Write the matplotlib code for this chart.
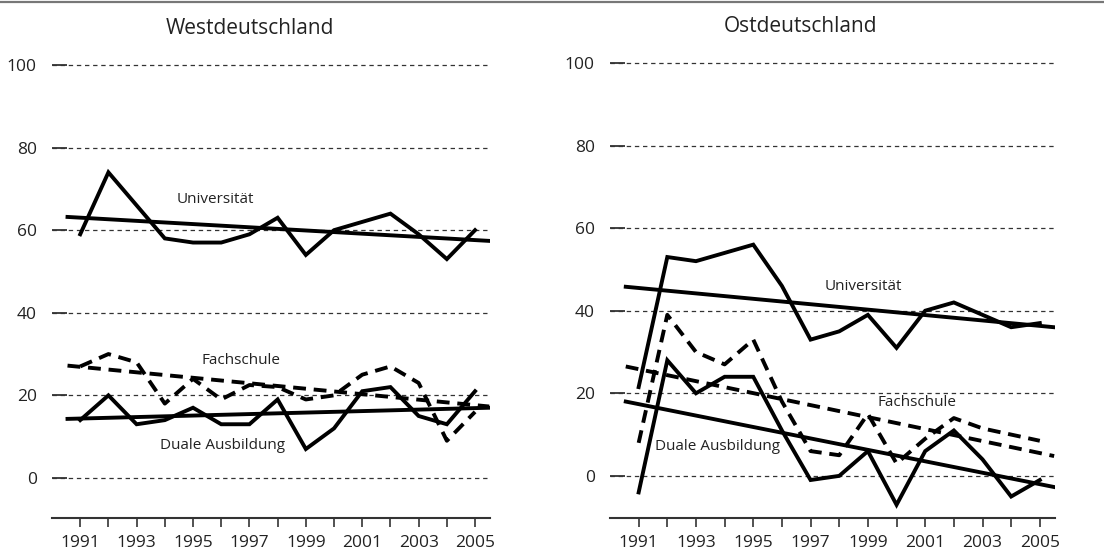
import numpy as np
import matplotlib
matplotlib.use("Agg")
import matplotlib.pyplot as plt
from matplotlib.lines import Line2D

plt.rcParams['font.family'] = ['Open Sans', 'DejaVu Sans']

## datos
jahre = np.arange(1991, 2006)

west_uni = [59, 74, 66, 58, 57, 57, 59, 63, 54, 60, 62, 64, 59, 53, 60]
west_fach = [27, 30, 28, 18, 24, 19, 22.5, 22, 19, 20, 25, 27, 23, 9, 16]
west_dual = [14, 20, 13, 14, 17, 13, 13, 19, 7, 12, 21, 22, 15, 13, 21]

ost_uni = [21.5, 53, 52, 54, 56, 46, 33, 35, 39, 31, 40, 42, 39, 36, 37]
ost_fach = [8, 39, 30, 27, 33, 18, 6, 5, 15, 3, 9, 14, 11.5, 10, 8.5]
ost_dual = [-4, 28, 20, 24, 24, 11, -1, 0, 6, -7, 6, 11, 4, -5, -1]

## trends (start, ende)
trend_x = [1990.55, 2005.5]
west_trend_uni = [63.2, 57.4]
west_trend_fach = [27.2, 17.3]
west_trend_dual = [14.3, 17.0]
ost_trend_uni = [45.8, 36.0]
ost_trend_fach = [26.5, 4.8]
ost_trend_dual = [18.0, -2.7]

yticks = [0, 20, 40, 60, 80, 100]
xlabels = [str(j) if j % 2 == 1 else "" for j in jahre]

dash = (0, (3.3, 2.0))
lw = 2.8

fig = plt.figure(figsize=(11.04, 5.56), dpi=100)
ax1 = fig.add_axes([52/1104, 1-518/556, 438/1104, (518-62.9)/556])
ax2 = fig.add_axes([610/1104, 1-518/556, 445/1104, (518-60.9)/556])


def panel(ax, uni, fach, dual, t_uni, t_fach, t_dual, ylo, labels):
    ax.set_xlim(1990, 2005.53)
    ax.set_ylim(ylo, 100.5)
    ax.set_yticks(yticks)
    ax.set_xticks(jahre)
    ax.set_xticklabels(xlabels)
    ax.grid(axis='y', color='#333333', lw=0.9, linestyle=(0, (3.5, 3)))
    ax.grid(axis='x', visible=False)
    for s in ['top', 'right', 'left']:
        ax.spines[s].set_visible(False)
    ax.spines['bottom'].set_color('#333333')
    ax.spines['bottom'].set_linewidth(1.5)
    ax.tick_params(axis='y', direction='in', length=10.8, width=1.3, color='#333333',
                   pad=11, labelsize=12.5, labelcolor='#222222')
    ax.tick_params(axis='x', direction='out', length=6.5, width=1.2, color='#333333',
                   pad=6, labelsize=12.5, labelcolor='#222222')

    ax.plot(jahre, uni, c='k', lw=lw, solid_joinstyle='miter')
    ax.plot(jahre, dual, c='k', lw=lw, solid_joinstyle='miter')
    ax.plot(jahre, fach, c='k', lw=lw, linestyle=dash, dash_capstyle='butt')
    ax.plot(trend_x, t_uni, c='k', lw=lw)
    ax.plot(trend_x, t_dual, c='k', lw=lw)
    ax.plot(trend_x, t_fach, c='k', lw=lw, linestyle=dash, dash_capstyle='butt')

    for (tx, ty, txt) in labels:
        ax.text(tx, ty, txt, ha='center', va='center', fontsize=11, color='#222222')


panel(ax1, west_uni, west_fach, west_dual, west_trend_uni, west_trend_fach, west_trend_dual,
      -9.7, [(1995.8, 67.5, "Universität"), (1996.7, 28.5, "Fachschule"),
             (1996.05, 7.9, "Duale Ausbildung")])
panel(ax2, ost_uni, ost_fach, ost_dual, ost_trend_uni, ost_trend_fach, ost_trend_dual,
      -10.2, [(1998.85, 45.8, "Universität"), (2000.7, 17.7, "Fachschule"),
              (1993.75, 7.0, "Duale Ausbildung")])

fig.text(250/1104, 1-29/556, "Westdeutschland", ha='center', va='center', fontsize=15, color='#222222')
fig.text(801/1104, 1-27/556, "Ostdeutschland", ha='center', va='center', fontsize=15, color='#222222')

fig.add_artist(Line2D([0, 1], [1-2/556, 1-2/556], color='#777777', lw=1.6))

plt.savefig("out.png", dpi=100)
plt.close()
